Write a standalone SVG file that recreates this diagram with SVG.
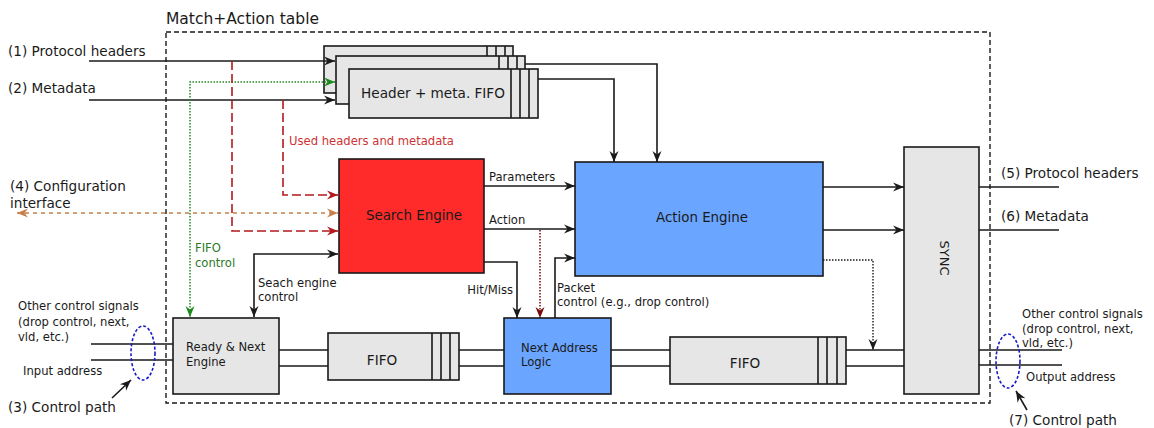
<svg xmlns="http://www.w3.org/2000/svg" width="1154" height="428" viewBox="0 0 1154 428">
<style>
text{font-family:"DejaVu Sans","Liberation Sans",sans-serif;fill:#1a1a1a}
.big{font-size:13.6px}
.sm{font-size:11.6px}
.box{stroke:#1a1a1a;stroke-width:1.6}
.gray{fill:#e6e6e6}
.cell{fill:none;stroke:#1a1a1a;stroke-width:1.6}
.ln{fill:none;stroke:#1a1a1a;stroke-width:1.6}
.red{fill:none;stroke:#b3191d;stroke-width:1.6;stroke-dasharray:9,4}
.grn{fill:none;stroke:#1e8a1e;stroke-width:1.5;stroke-dasharray:1.5,1.5}
.org{fill:none;stroke:#c87e4a;stroke-width:1.6;stroke-dasharray:4,4}
.drd{fill:none;stroke:#7a0a0a;stroke-width:1.5;stroke-dasharray:1.5,1.5}
.dot{fill:none;stroke:#1a1a1a;stroke-width:1.4;stroke-dasharray:1.5,1.5}
.ell{fill:none;stroke:#1a1acc;stroke-width:1.6;stroke-dasharray:3,2}
</style>
<defs>
<marker id="ab" viewBox="-12 -6 13 12" refX="0" refY="0" markerWidth="13" markerHeight="12" orient="auto-start-reverse" markerUnits="userSpaceOnUse"><path d="M0,0 L-11,-4.5 L-7.5,0 L-11,4.5 z" fill="#1a1a1a"/></marker>
<marker id="ar" viewBox="-12 -6 13 12" refX="0" refY="0" markerWidth="13" markerHeight="12" orient="auto-start-reverse" markerUnits="userSpaceOnUse"><path d="M0,0 L-11,-4.5 L-7.5,0 L-11,4.5 z" fill="#b3191d"/></marker>
<marker id="ag" viewBox="-12 -6 13 12" refX="0" refY="0" markerWidth="13" markerHeight="12" orient="auto-start-reverse" markerUnits="userSpaceOnUse"><path d="M0,0 L-11,-4.5 L-7.5,0 L-11,4.5 z" fill="#1e8a1e"/></marker>
<marker id="ao" viewBox="-12 -6 13 12" refX="0" refY="0" markerWidth="13" markerHeight="12" orient="auto-start-reverse" markerUnits="userSpaceOnUse"><path d="M0,0 L-11,-4.5 L-7.5,0 L-11,4.5 z" fill="#c87e4a"/></marker>
<marker id="ad" viewBox="-12 -6 13 12" refX="0" refY="0" markerWidth="13" markerHeight="12" orient="auto-start-reverse" markerUnits="userSpaceOnUse"><path d="M0,0 L-11,-4.5 L-7.5,0 L-11,4.5 z" fill="#7a0a0a"/></marker>
</defs>

<rect x="166" y="32" width="824" height="371" fill="none" stroke="#1a1a1a" stroke-width="1.4" stroke-dasharray="5,3"/>
<text x="166" y="24" style="font-size:15.5px">Match+Action table</text>

<text class="big" x="8" y="56">(1) Protocol headers</text>
<text class="big" x="8" y="93">(2) Metadata</text>
<text class="big" x="10" y="191">(4) Configuration</text>
<text class="big" x="10" y="208">interface</text>
<text class="big" x="8" y="412">(3) Control path</text>
<text class="big" x="1001" y="178">(5) Protocol headers</text>
<text class="big" x="1001" y="221">(6) Metadata</text>
<text class="big" x="1009" y="425">(7) Control path</text>
<text class="sm" x="18" y="310">Other control signals</text>
<text class="sm" x="18" y="326">(drop control, next,</text>
<text class="sm" x="18" y="341">vld, etc.)</text>
<text class="sm" x="23" y="375">Input address</text>
<text class="sm" x="1022" y="318">Other control signals</text>
<text class="sm" x="1022" y="333">(drop control, next,</text>
<text class="sm" x="1022" y="347">vld, etc.)</text>
<text class="sm" x="1026" y="381">Output address</text>
<text class="sm" x="289" y="145" style="fill:#cc3333">Used headers and metadata</text>
<text class="sm" x="195" y="252" style="fill:#2a7a2a">FIFO</text>
<text class="sm" x="195" y="267" style="fill:#2a7a2a">control</text>
<text class="sm" x="258" y="287">Seach engine</text>
<text class="sm" x="258" y="301">control</text>
<text class="sm" x="489" y="181">Parameters</text>
<text class="sm" x="489" y="224">Action</text>
<text class="sm" x="513" y="294" text-anchor="end">Hit/Miss</text>
<text class="sm" x="557" y="292">Packet</text>
<text class="sm" x="557" y="306">control (e.g., drop control)</text>

<g id="fifo-back">
<rect class="box gray" x="324" y="46" width="189" height="47"/>
<path class="cell" d="M487,46 V93 M496,46 V93 M505,46 V93"/>
</g>

<g id="connectors">
<path class="ln" d="M89,61 H335" marker-end="url(#ab)"/>
<path class="ln" d="M89,100 H335" marker-end="url(#ab)"/>
<path class="grn" d="M335,82 H190 V317" marker-start="url(#ag)" marker-end="url(#ag)"/>
<path class="red" d="M232,61 V231 H338" marker-end="url(#ar)"/>
<path class="red" d="M283,100 V195 H338" marker-end="url(#ar)"/>
<path class="org" d="M17,213 H338" marker-start="url(#ao)" marker-end="url(#ao)"/>
<path class="ln" d="M338,254 H254 V317" marker-start="url(#ab)" marker-end="url(#ab)"/>
<path class="ln" d="M525,64 H657 V162" marker-end="url(#ab)"/>
<path class="ln" d="M538,79 H614 V162" marker-end="url(#ab)"/>
<path class="ln" d="M484,186 H575" marker-end="url(#ab)"/>
<path class="ln" d="M484,229 H575" marker-end="url(#ab)"/>
<path class="ln" d="M484,262 H517 V318" marker-end="url(#ab)"/>
<path class="drd" d="M540,230 V318" marker-end="url(#ad)"/>
<path class="ln" d="M555,318 V258 H575" marker-end="url(#ab)"/>
<path class="ln" d="M823,187 H904" marker-end="url(#ab)"/>
<path class="ln" d="M823,230 H904" marker-end="url(#ab)"/>
<path class="dot" d="M823,260 H873 V350" marker-end="url(#ab)"/>
<path class="ln" d="M979,187 H1059 M979,230 H1059"/>
<path class="ln" d="M91,344 H173 M91,360 H173"/>
<path class="ln" d="M279,350 H328 M279,366 H328"/>
<path class="ln" d="M459,350 H504 M459,366 H504"/>
<path class="ln" d="M611,350 H670 M611,366 H670"/>
<path class="ln" d="M846,350 H904 M846,366 H904"/>
<path class="ln" d="M979,350 H1062 M979,365 H1062"/>
<ellipse class="ell" cx="143" cy="353" rx="12" ry="27"/>
<ellipse class="ell" cx="1008" cy="361" rx="12" ry="27"/>
<path class="ln" d="M112,398 L131,380" marker-end="url(#ab)"/>
<path class="ln" d="M1027,410 L1016,391" marker-end="url(#ab)"/>
</g>

<g id="fifo-stack">
<rect class="box gray" x="336" y="56" width="189" height="48"/>
<path class="cell" d="M499,56 V104 M508,56 V104 M517,56 V104"/>
<rect class="box gray" x="349" y="69" width="189" height="49"/>
<path class="cell" d="M511,69 V118 M520,69 V118 M529,69 V118"/>
<text class="big" x="433" y="98" text-anchor="middle">Header + meta. FIFO</text>
</g>

<g id="search-engine">
<rect class="box" x="339" y="159" width="145" height="114" fill="#ff2a2a"/>
<text x="414" y="220" text-anchor="middle" style="font-size:13.4px">Search Engine</text>
</g>

<g id="action-engine">
<rect class="box" x="575" y="162" width="248" height="114" fill="#6aa5ff"/>
<text x="702" y="222" text-anchor="middle" style="font-size:13.4px">Action Engine</text>
</g>

<g id="sync">
<rect class="box gray" x="904" y="147" width="75" height="247"/>
<text x="944" y="258" text-anchor="middle" dominant-baseline="central" transform="rotate(90 944 258)" style="font-size:13px">SYNC</text>
</g>

<g id="ready-next">
<rect class="box gray" x="173" y="318" width="106" height="76"/>
<text class="sm" x="186" y="351">Ready &amp; Next</text>
<text class="sm" x="186" y="366">Engine</text>
</g>

<g id="fifo1">
<rect class="box gray" x="328" y="333" width="131" height="47"/>
<path class="cell" d="M432,333 V380 M441,333 V380 M450,333 V380"/>
<text class="big" x="382" y="365" text-anchor="middle">FIFO</text>
</g>

<g id="next-address">
<rect class="box" x="504" y="318" width="107" height="76" fill="#6aa5ff"/>
<text class="sm" x="521" y="352">Next Address</text>
<text class="sm" x="521" y="366">Logic</text>
</g>

<g id="fifo2">
<rect class="box gray" x="670" y="337" width="176" height="47"/>
<path class="cell" d="M818,337 V384 M827,337 V384 M837,337 V384"/>
<text class="big" x="745" y="368" text-anchor="middle">FIFO</text>
</g>
</svg>
